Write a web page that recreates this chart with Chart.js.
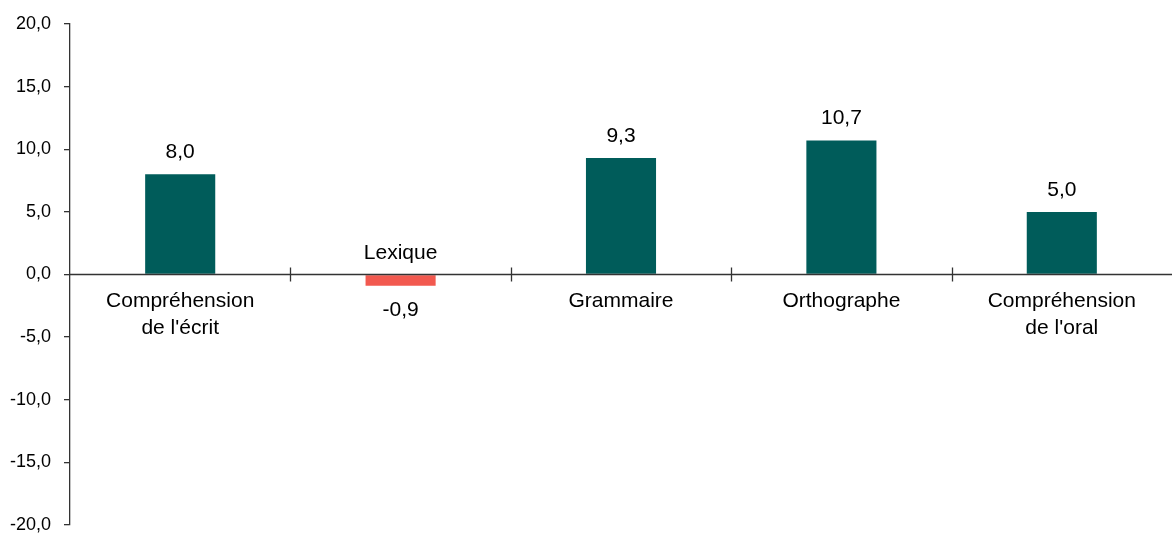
<!DOCTYPE html>
<html><head><meta charset="utf-8">
<script src="https://cdn.jsdelivr.net/npm/chart.js@4/dist/chart.umd.min.js"></script>
<style>html,body{margin:0;padding:0;background:#fff;}#wrap{width:1174px;height:533px;}</style>
</head><body><div id="wrap"><canvas id="c" width="1174" height="533"></canvas></div>
<script>
const categories = [["Compréhension","de l'écrit"],["Lexique"],["Grammaire"],["Orthographe"],["Compréhension","de l'oral"]];
const values = [8.0, -0.9, 9.3, 10.7, 5.0];
const yTicks = {min: -20, max: 20, step: 5};
const POS = '#005C5A', NEG = '#F2594F';
const fmt = v => v.toFixed(1).replace('.', ',');

const labelPlugin = {
  id: 'labels',
  afterDatasetsDraw(chart) {
    const ctx = chart.ctx, x = chart.scales.x, y = chart.scales.y, area = chart.chartArea;
    const y0 = y.getPixelForValue(0);
    ctx.save();
    ctx.strokeStyle = '#333'; ctx.lineWidth = 1.3;
    ctx.beginPath(); ctx.moveTo(area.left, y0); ctx.lineTo(area.right, y0); ctx.stroke();
    for (let i = 0; i < categories.length - 1; i++) {
      const xb = Math.round((x.getPixelForValue(i) + x.getPixelForValue(i + 1)) / 2) + 0.5;
      ctx.beginPath(); ctx.moveTo(xb, y0 - 7); ctx.lineTo(xb, y0 + 7); ctx.stroke();
    }
    ctx.fillStyle = '#000'; ctx.textAlign = 'center'; ctx.textBaseline = 'alphabetic';
    ctx.font = '21px "Liberation Sans", Arial, sans-serif';
    const meta = chart.getDatasetMeta(0);
    values.forEach((v, i) => {
      const cx = x.getPixelForValue(i);
      const bar = meta.data[i];
      if (v >= 0) {
        ctx.fillText(fmt(v), cx, bar.y - 16);
        categories[i].forEach((l, k) => ctx.fillText(l, cx, y0 + 32 + k * 27));
      } else {
        ctx.fillText(fmt(v), cx, bar.y + 30);
        const n = categories[i].length;
        categories[i].forEach((l, k) => ctx.fillText(l, cx, y0 - 16 - (n - 1 - k) * 27));
      }
    });
    ctx.restore();
  }
};

new Chart(document.getElementById('c'), {
  type: 'bar',
  data: {
    labels: categories.map(c => c.join(' ')),
    datasets: [{
      data: values,
      backgroundColor: values.map(v => v >= 0 ? POS : NEG),
      barPercentage: 0.318, categoryPercentage: 1
    }]
  },
  options: {
    responsive: false, animation: false,
    layout: {padding: {top: 24, right: 2, bottom: 8, left: 0}},
    plugins: {legend: {display: false}, tooltip: {enabled: false}},
    scales: {
      x: {display: false, offset: true},
      y: {
        min: yTicks.min, max: yTicks.max,
        afterFit: s => { s.width = 70; s.paddingTop = 0; s.paddingBottom = 0; },
        ticks: {stepSize: yTicks.step, callback: v => fmt(v), color: '#000', padding: 13,
                font: {family: '"Liberation Sans", Arial, sans-serif', size: 18}},
        grid: {drawOnChartArea: false, drawTicks: true, tickLength: 6, color: '#333', lineWidth: 1.3},
        border: {display: true, color: '#333', width: 1.3}
      }
    }
  },
  plugins: [labelPlugin]
});
</script></body></html>
